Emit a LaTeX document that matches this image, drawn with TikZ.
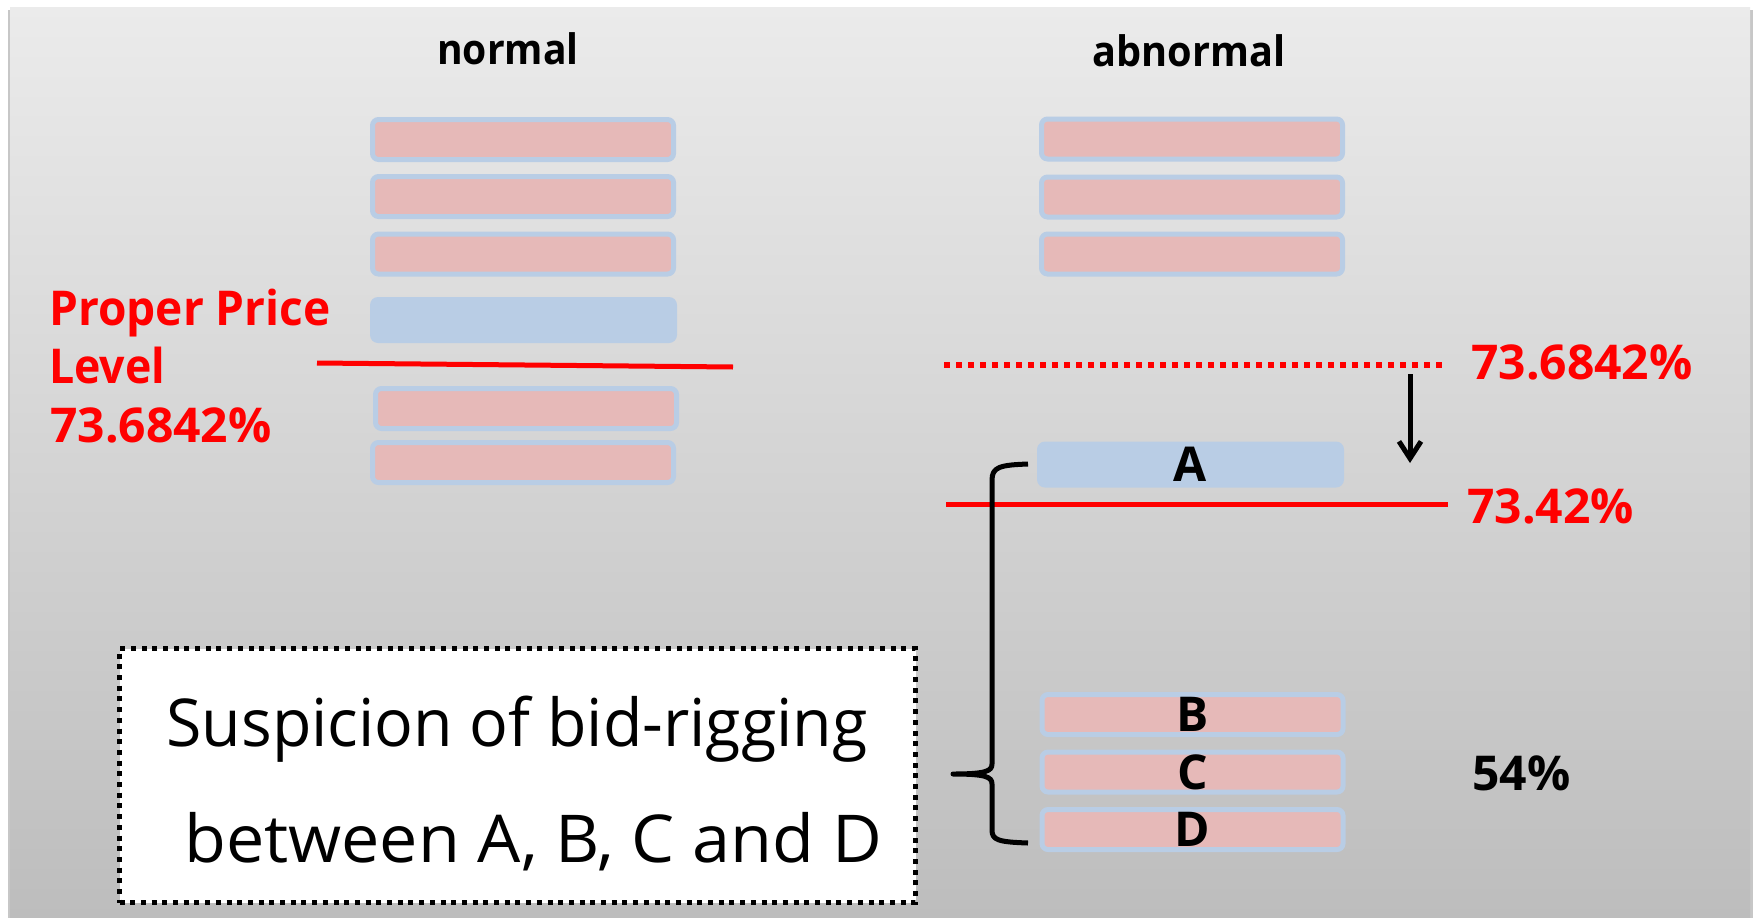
\documentclass[tikz,border=0pt]{standalone}
\usepackage{fontspec}
\setmainfont{Open Sans}
\usetikzlibrary{arrows.meta}
\definecolor{bidpink}{HTML}{E6B9B8}
\definecolor{bidblue}{HTML}{B9CDE5}
\definecolor{paneltop}{HTML}{EBEBEB}
\definecolor{panelbot}{HTML}{BDBDBD}
\definecolor{pricered}{HTML}{FF0000}
\begin{document}
\begin{tikzpicture}[x=1pt,y=-1pt,
  bid/.style={draw=bidblue, fill=bidpink, line width=5pt, rounded corners=6pt,
    minimum width=301pt, minimum height=40pt, inner sep=0pt,
    font=\fontsize{48}{48}\selectfont\bfseries},
  lowbid/.style={fill=bidblue, rounded corners=8pt, minimum width=307pt,
    minimum height=46pt, inner sep=0pt, font=\fontsize{48}{48}\selectfont\bfseries},
  heading/.style={inner sep=0pt, anchor=base, font=\fontsize{42}{42}\selectfont\bfseries},
  redlabel/.style={inner sep=0pt, anchor=base west, text=pricered,
    font=\fontsize{48}{48}\selectfont\bfseries},
  priceline/.style={draw=pricered, line width=5pt},
  bigtext/.style={inner sep=0pt, anchor=base, font=\fontsize{66}{66}\selectfont}
]
\useasboundingbox (0,0) rectangle (1756,918);
\fill[white] (0,0) rectangle (1756,918);
% panel with soft shadow
\fill[black!22] (8,10) rectangle (1753,918);
\shade[top color=paneltop, bottom color=panelbot] (10,7) rectangle (1750,918);

% headings
\node[heading] (hnorm) at (508,64) {\scalebox{0.93}[1]{normal}};
\node[heading] (habn) at (1189,66) {\scalebox{0.945}[1]{abnormal}};

% normal column
\node[bid] (n1) at (523,139.5) {};
\node[bid] (n2) at (523,196.5) {};
\node[bid] (n3) at (523,254) {};
\node[lowbid] (np) at (523.5,320) {};
\node[bid] (n4) at (526,408.5) {};
\node[bid] (n5) at (523,462.5) {};
\coordinate (pl1) at (317,363);
\coordinate (pl2) at (733,367);
\draw[priceline] (pl1) -- (pl2);
\node[redlabel] (lp1) at (49,325) {\scalebox{0.96}[1]{Proper Price}};
\node[redlabel] (lp2) at (49,383) {\scalebox{0.93}[1]{Level}};
\node[redlabel] (lp3) at (50,442) {73.6842\%};

% abnormal column
\node[bid] (a1) at (1192,139) {};
\node[bid] (a2) at (1192,197) {};
\node[bid] (a3) at (1192,254) {};
\node[lowbid] (bA) at (1190.5,464.5) {A};
\node[bid] (bB) at (1192.5,714.5) {B};
\node[bid] (bC) at (1192.5,772) {C};
\node[bid] (bD) at (1192.5,829.5) {D};

\coordinate (dl1) at (944,364.5);
\coordinate (dl2) at (1442,364.5);
\draw[priceline, line width=6pt, dash pattern=on 6pt off 6pt] (dl1) -- (dl2);
\node[redlabel] (rp1) at (1471,379) {73.6842\%};

\coordinate (sl1) at (946,504);
\coordinate (sl2) at (1448,504);
\draw[priceline] (sl1) -- (sl2);
\node[redlabel] (rp2) at (1467,523) {73.42\%};

\coordinate (arS) at (1410,374);
\coordinate (arE) at (1410,463);
\draw[line width=5pt, -{Straight Barb[length=17pt,width=22pt,line width=5pt]}] (arS) -- (arE);

\node[redlabel, text=black] (pct) at (1472,790) {54\%};

% brace grouping A to D
\coordinate (brT) at (1028,464);
\coordinate (brM) at (953,774);
\coordinate (brB) at (1028,843);
\draw[line width=5pt, line join=round] (brT) .. controls (1000,465) and (992,467) .. (992,480)
  -- (992,764) .. controls (992,771) and (986,774) .. (brM)
  .. controls (986,774) and (992,777) .. (992,784)
  -- (992,830) .. controls (992,840) and (998,842) .. (brB);

% note box
\node[draw=black, fill=white, line width=5pt, dash pattern=on 5pt off 5.7pt,
  minimum width=796pt, minimum height=254pt, inner sep=0pt] (note) at (517.5,775.5) {};
\node[bigtext] (t1) at (517,746) {\scalebox{0.976}[1]{Suspicion of bid-rigging}};
\node[bigtext] (t2) at (533,862) {\scalebox{1.035}[1]{between A, B, C and D}};
\end{tikzpicture}
\end{document}
